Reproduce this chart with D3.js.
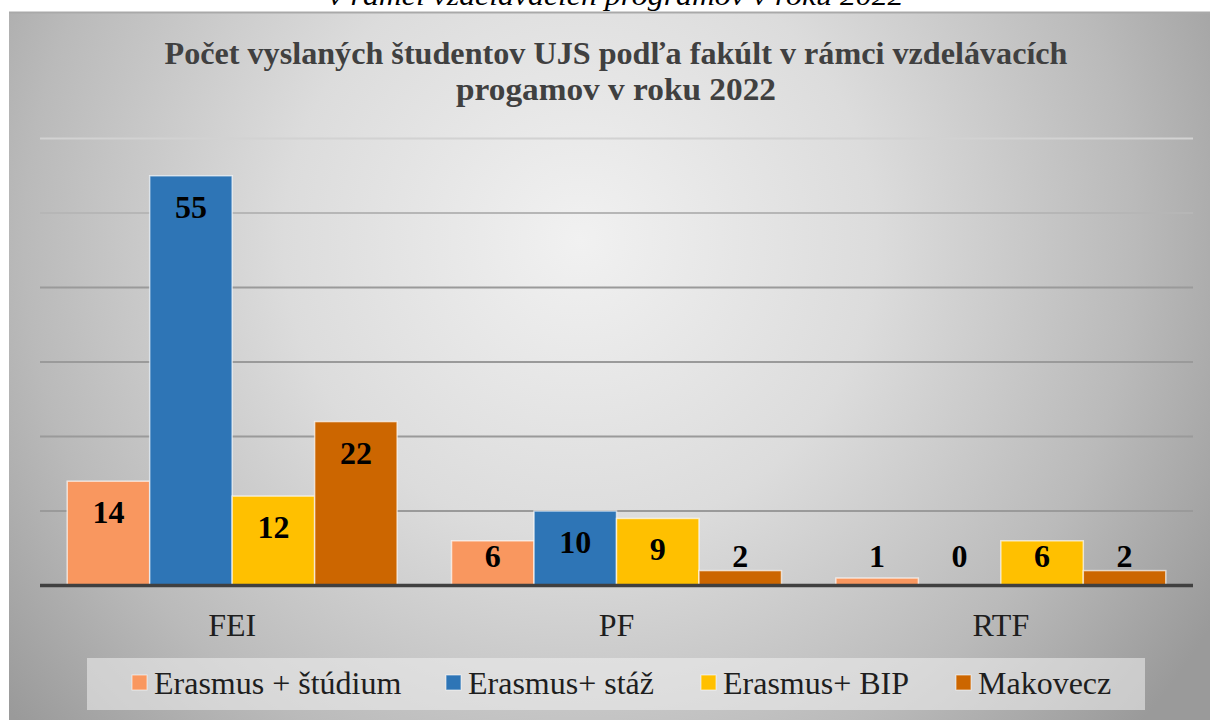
<!DOCTYPE html>
<html>
<head>
<meta charset="utf-8">
<script src="https://cdn.jsdelivr.net/npm/d3@7"></script>
<style>
    body { margin: 0; background: #fff; }
    svg { display: block; }
    svg text { font-family: "Liberation Serif", serif; }
</style>
</head>
<body>
<svg id="chart" width="1210" height="720"></svg>
<script>
const categories = ['FEI', 'PF', 'RTF'];
const seriesNames = ['Erasmus + štúdium', 'Erasmus+ stáž', 'Erasmus+ BIP', 'Makovecz'];
const studium = [14, 6, 1];
const staz = [55, 10, 0];
const bip = [12, 9, 6];
const makovecz = [22, 2, 2];
const yTicks = [10, 20, 30, 40, 50, 60];
const seriesColors = ['#f9975f', '#2e75b6', '#ffc000', '#cc6600'];
const titleLines = ['Počet vyslaných študentov UJS podľa fakúlt v rámci vzdelávacích', 'progamov v roku 2022'];
const captionAbove = 'v rámci vzdelávacích programov v roku 2022';

const seriesValues = [studium, staz, bip, makovecz];

const svg = d3.select('#chart');
const defs = svg.append('defs');

// soft radial background like the office chart style
const bg = defs.append('radialGradient')
    .attr('id', 'bgGrad')
    .attr('gradientUnits', 'userSpaceOnUse')
    .attr('cx', 580).attr('cy', 240).attr('r', 740);
[[0, '#f1f1f1'], [0.4, '#dcdcdc'], [0.75, '#bababa'], [1, '#9a9a9a']].forEach(([o, c]) => {
    bg.append('stop').attr('offset', o).attr('stop-color', c);
});

// caption of the page above, cut off by the crop
svg.append('text')
    .attr('x', 616).attr('y', 5)
    .attr('text-anchor', 'middle')
    .attr('font-style', 'italic')
    .attr('font-size', 28)
    .attr('textLength', 575)
    .attr('lengthAdjust', 'spacingAndGlyphs')
    .attr('fill', '#000')
    .text(captionAbove);

svg.append('rect')
    .attr('x', 9).attr('y', 12)
    .attr('width', 1220).attr('height', 720)
    .attr('fill', 'url(#bgGrad)');

svg.append('line')
    .attr('x1', 9).attr('x2', 1210)
    .attr('y1', 12.5).attr('y2', 12.5)
    .attr('stroke', '#a9a9a9')
    .attr('stroke-width', 2);

// title
svg.append('g')
    .selectAll('text')
    .data(titleLines)
    .join('text')
        .attr('x', 616)
        .attr('y', (d, i) => 64 + i * 36)
        .attr('text-anchor', 'middle')
        .attr('font-weight', 'bold')
        .attr('font-size', 31)
        .attr('fill', '#404040')
        .attr('textLength', (d, i) => i === 0 ? 903 : 320)
        .attr('lengthAdjust', 'spacingAndGlyphs')
        .text(d => d);

// scales
const x0 = d3.scaleBand()
    .domain(categories)
    .range([40, 1193]);

const x1 = d3.scaleBand()
    .domain(seriesNames)
    .range([0, x0.bandwidth()])
    .paddingInner(0)
    .paddingOuter(0.33);

const y = d3.scaleLinear()
    .domain([0, 60])
    .range([585.5, 138.5]);

const gridColor = d3.scaleLinear()
    .domain([40, 60])
    .range(['#9a9a9a', '#d2d2d2'])
    .clamp(true);

// gridlines
svg.append('g')
    .selectAll('line')
    .data(yTicks)
    .join('line')
        .attr('x1', 40).attr('x2', 1193)
        .attr('y1', d => y(d)).attr('y2', d => y(d))
        .attr('stroke', d => gridColor(d))
        .attr('stroke-width', 2);

// bars
const rows = categories.map((cat, ci) => seriesNames.map((s, si) => ({
    cat, series: s, si, value: seriesValues[si][ci]
})));

const groups = svg.append('g')
    .selectAll('g')
    .data(rows)
    .join('g')
        .attr('transform', (d, i) => `translate(${x0(categories[i])},0)`);

groups.selectAll('rect')
    .data(d => d.filter(v => v.value > 0))
    .join('rect')
        .attr('x', d => x1(d.series))
        .attr('y', d => y(d.value))
        .attr('width', x1.bandwidth())
        .attr('height', d => y(0) - y(d.value))
        .attr('fill', d => seriesColors[d.si])
        .attr('stroke', 'rgba(255,255,255,0.65)')
        .attr('stroke-width', 1.5);

groups.selectAll('text')
    .data(d => d)
    .join('text')
        .attr('x', d => x1(d.series) + x1.bandwidth() / 2)
        .attr('y', d => Math.min(y(d.value) + 42, 567))
        .attr('text-anchor', 'middle')
        .attr('font-weight', 'bold')
        .attr('font-size', 32)
        .attr('fill', '#000')
        .text(d => d.value);

// category axis
svg.append('line')
    .attr('x1', 40).attr('x2', 1193)
    .attr('y1', y(0)).attr('y2', y(0))
    .attr('stroke', '#404040')
    .attr('stroke-width', 3.5);

svg.append('g')
    .selectAll('text')
    .data(categories)
    .join('text')
        .attr('x', d => x0(d) + x0.bandwidth() / 2)
        .attr('y', 636)
        .attr('text-anchor', 'middle')
        .attr('font-size', 32)
        .attr('fill', '#1e1e1e')
        .text(d => d);

// legend
const legendX = [132, 446, 701, 956];

svg.append('rect')
    .attr('x', 87).attr('y', 658)
    .attr('width', 1058).attr('height', 52)
    .attr('fill', 'rgba(240,240,240,0.55)');

const items = svg.append('g')
    .selectAll('g')
    .data(seriesNames)
    .join('g')
        .attr('transform', (d, i) => `translate(${legendX[i]},0)`);

items.append('rect')
    .attr('x', 0).attr('y', 675)
    .attr('width', 15).attr('height', 15)
    .attr('fill', (d, i) => seriesColors[i])
    .attr('stroke', 'rgba(255,255,255,0.6)')
    .attr('stroke-width', 1);

items.append('text')
    .attr('x', 22).attr('y', 694)
    .attr('font-size', 32)
    .attr('fill', '#1e1e1e')
    .text(d => d);
</script>
</body>
</html>
